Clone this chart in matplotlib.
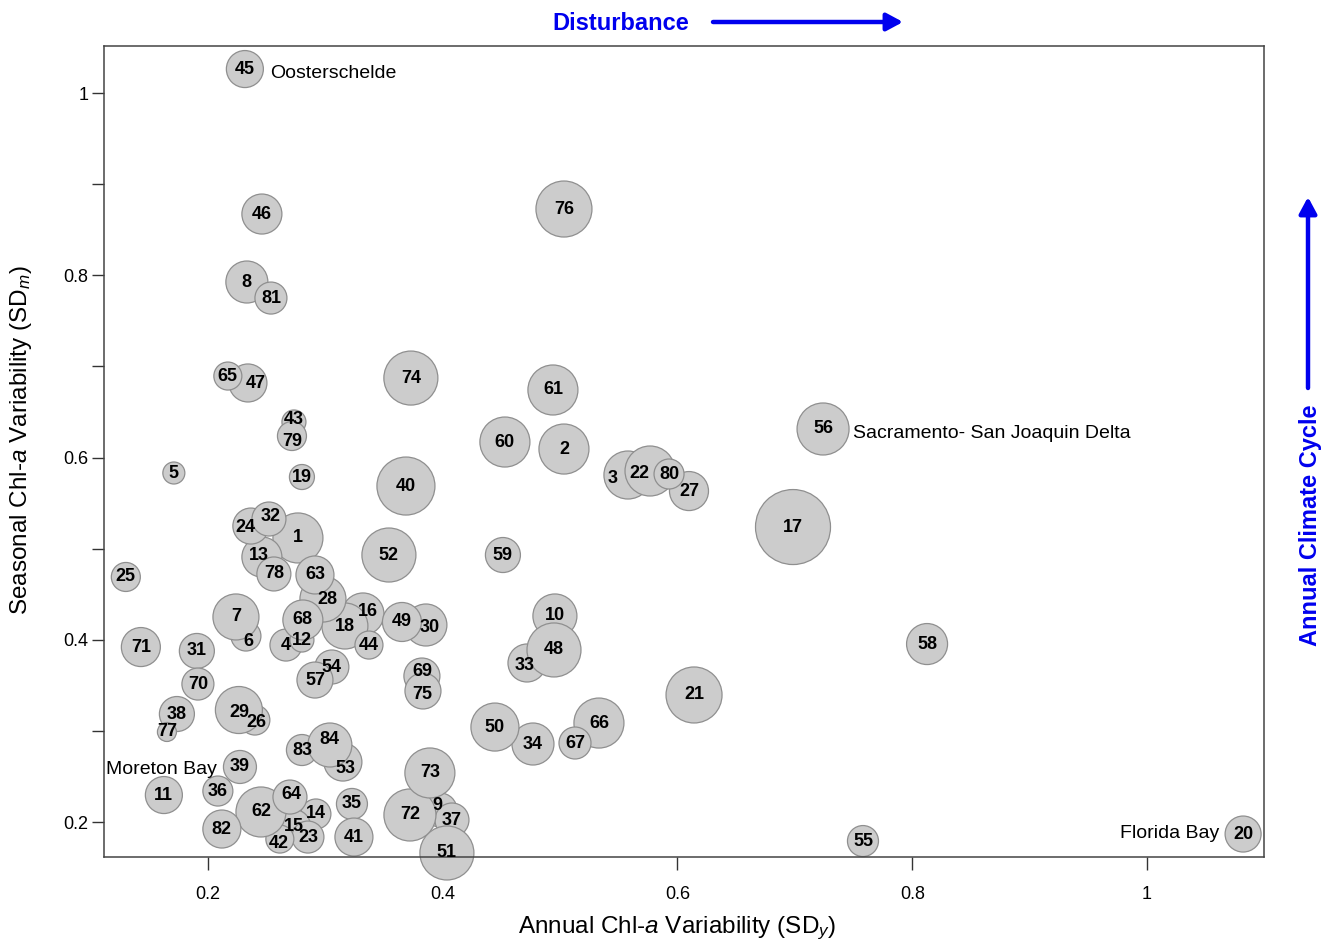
import matplotlib
matplotlib.use("Agg")
import matplotlib.pyplot as plt
from matplotlib.patches import ArrowStyle

plt.rcParams['font.family'] = ['Liberation Sans', 'DejaVu Sans']
plt.rcParams['mathtext.fontset'] = 'custom'
plt.rcParams['mathtext.rm'] = 'Liberation Sans'
plt.rcParams['mathtext.it'] = 'Liberation Sans:italic'

# ---------------- data ----------------
site_ids = list(range(1, 85))
annual_sd = [0.2767, 0.5033, 0.5578, 0.2665, 0.1710, 0.2324, 0.2239, 0.2332, 0.3977, 0.4956,
             0.1625, 0.2801, 0.2460, 0.2920, 0.2733, 0.3321, 0.6984, 0.3167, 0.2801, 1.0818,
             0.6141, 0.5766, 0.2852, 0.2366, 0.1301, 0.2400, 0.6098, 0.2980, 0.2264, 0.3857,
             0.1906, 0.2520, 0.4718, 0.4769, 0.3227, 0.2085, 0.4079, 0.1736, 0.2273, 0.3687,
             0.3244, 0.2613, 0.2733, 0.3372, 0.2315, 0.2460, 0.2341, 0.4948, 0.3653, 0.4445,
             0.4036, 0.3542, 0.3150, 0.3056, 0.7580, 0.7240, 0.2912, 0.8126, 0.4513, 0.4530,
             0.4939, 0.2452, 0.2912, 0.2699, 0.2170, 0.5331, 0.5127, 0.2809, 0.3823, 0.1915,
             0.1429, 0.3721, 0.3891, 0.3729, 0.3832, 0.5033, 0.1651, 0.2562, 0.2716, 0.5928,
             0.2537, 0.2119, 0.2801, 0.3039]
seasonal_sd = [0.5117, 0.6093, 0.5808, 0.3942, 0.5830, 0.4041, 0.4250, 0.7926, 0.2132, 0.4261,
               0.2296, 0.3997, 0.4908, 0.2088, 0.1956, 0.4283, 0.5237, 0.4151, 0.5786, 0.1868,
               0.3394, 0.5852, 0.1835, 0.5248, 0.4689, 0.3119, 0.5632, 0.4447, 0.3229, 0.4162,
               0.3877, 0.5325, 0.3745, 0.2856, 0.2198, 0.2340, 0.2022, 0.3185, 0.2604, 0.5687,
               0.1835, 0.1813, 0.6390, 0.3942, 1.0263, 0.8672, 0.6818, 0.3888, 0.4195, 0.3042,
               0.1660, 0.4930, 0.2658, 0.3701, 0.1791, 0.6313, 0.3558, 0.3953, 0.4930, 0.6170,
               0.6741, 0.2110, 0.4711, 0.2274, 0.6894, 0.3086, 0.2867, 0.4217, 0.3602, 0.3514,
               0.3920, 0.2077, 0.2538, 0.6872, 0.3438, 0.8727, 0.2988, 0.4722, 0.6236, 0.5819,
               0.7750, 0.1923, 0.2790, 0.2845]
bubble_size = [25, 25, 24, 16, 11, 15, 23, 21, 17, 22,
               18.5, 12, 20, 15, 16.5, 21, 37.5, 23, 12.5, 18,
               28, 25, 16, 18, 14.5, 15, 19.5, 23, 23.5, 21,
               17.5, 17, 19, 21, 15.5, 15, 17, 17.5, 16.5, 29,
               19, 14, 12, 14, 18.5, 20, 19, 27, 19.5, 24,
               27, 27, 19, 17, 15.5, 26, 18, 20.5, 17.5, 25,
               25, 25, 19, 17, 14, 25, 16, 20, 18, 16,
               19.5, 26, 25, 27, 18, 28, 9.5, 17, 14.5, 15,
               16, 19, 15.5, 22]

named_sites = ["Oosterschelde", "Sacramento- San Joaquin Delta", "Moreton Bay", "Florida Bay"]
named_x = [0.2528, 0.7495, 0.2077, 1.0613]
named_y = [1.0219, 0.6269, 0.2571, 0.1879]

x_ticks = [0.2, 0.4, 0.6, 0.8, 1.0]
x_ticklabels = ["0.2", "0.4", "0.6", "0.8", "1"]
y_ticks = [0.2, 0.3, 0.4, 0.5, 0.6, 0.7, 0.8, 0.9, 1.0]
y_ticklabels = ["0.2", "", "0.4", "", "0.6", "", "0.8", "", "1"]

# label nudges (pixels, right / down) to mimic the reference label placement
label_nudge = {24: (-5, 1), 3: (-15, 3), 22: (-11, 2), 47: (8, 1), 26: (2, 2), 6: (2, 5),
               9: (-3, -4), 42: (-1, 4), 28: (4, 0), 16: (5, -2), 30: (4, 3), 33: (-2, 3),
               84: (0, -6), 53: (3, 6), 69: (0, -5), 75: (-1, 4), 29: (0, 2), 79: (0, 5),
               43: (0, -2), 13: (-3, -2), 32: (2, -3), 64: (1, -3)}

# ---------------- figure ----------------
W, H = 1336, 944
fig = plt.figure(figsize=(W / 100, H / 100), dpi=100)
L, R, T, B = 104, 1264, 46, 857
ax = fig.add_axes([L / W, 1 - B / H, (R - L) / W, (B - T) / H])

ax.set_xlim(0.1115, 1.0996)
ax.set_ylim(0.1616, 1.0516)

s = [(r * 1.44) ** 2 for r in bubble_size]
ax.scatter(annual_sd, seasonal_sd, s=s, facecolor='#cccccc', edgecolor='#8f8f8f',
           linewidths=0.9, clip_on=False, zorder=2)

px2pt = 0.72
for n, x, y in zip(site_ids, annual_sd, seasonal_sd):
    dx, dy = label_nudge.get(n, (0, 0))
    ax.annotate(str(n), (x, y), xytext=(dx * px2pt, -dy * px2pt), textcoords='offset points',
                ha='center', va='center', fontsize=13, fontweight='bold', color='black',
                zorder=3, annotation_clip=False)

aligns = ['left', 'left', 'right', 'right']
for name, x, y, a in zip(named_sites, named_x, named_y, aligns):
    ax.text(x, y, name, ha=a, va='center', fontsize=14, color='black', zorder=3)

ax.set_xticks(x_ticks)
ax.set_xticklabels(x_ticklabels)
ax.set_yticks(y_ticks)
ax.set_yticklabels(y_ticklabels)
ax.tick_params(axis='x', length=9, width=1.0, pad=12, labelsize=13, colors='#333333', labelcolor='black')
ax.tick_params(axis='y', length=9, width=1.0, pad=2, labelsize=13, colors='#333333', labelcolor='black')
for sp in ax.spines.values():
    sp.set_color('#444444')
    sp.set_linewidth(1.1)

ax.set_xlabel(r'Annual Chl-$a$ Variability (SD$_y$)', fontsize=17.5)
ax.xaxis.set_label_coords((677 - L) / (R - L), -(915 - B) / (B - T))
ax.set_ylabel(r'Seasonal Chl-$a$ Variability (SD$_m$)', fontsize=17.5)
ax.yaxis.set_label_coords(-(L - 34) / (R - L), (B - 440) / (B - T))

# direction annotations
fig.text(621 / W, 1 - 23 / H, 'Disturbance', color='#0000ee', fontsize=17, fontweight='bold',
         ha='center', va='center')
astyle = ArrowStyle('-|>', head_length=0.65, head_width=0.35)
ax.annotate('', xy=(903 / W, 1 - 22 / H), xytext=(713 / W, 1 - 22 / H), xycoords='figure fraction',
            textcoords='figure fraction',
            arrowprops=dict(arrowstyle=astyle, color='#0000ee', lw=3.2, mutation_scale=15,
                            shrinkA=0, shrinkB=0), annotation_clip=False)
ax.annotate('', xy=(1308 / W, 1 - 197 / H), xytext=(1308 / W, 1 - 388 / H), xycoords='figure fraction',
            textcoords='figure fraction',
            arrowprops=dict(arrowstyle=astyle, color='#0000ee', lw=3.2, mutation_scale=15,
                            shrinkA=0, shrinkB=0), annotation_clip=False)
fig.text(1311 / W, 1 - 525 / H, 'Annual Climate Cycle', color='#0000ee', fontsize=17,
         fontweight='bold', ha='center', va='center', rotation=90)

fig.savefig('out.png', dpi=100)
